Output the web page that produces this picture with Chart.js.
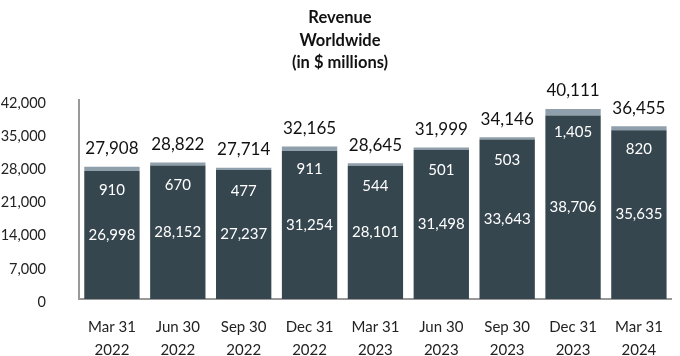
<!DOCTYPE html>
<html>
<head>
<meta charset="utf-8">
<script src="https://cdn.jsdelivr.net/npm/chart.js@4"></script>
<style>
  html, body { margin: 0; padding: 0; background: #fff; }
  #wrap { width: 680px; height: 356px; position: relative; }
</style>
</head>
<body>
<div id="wrap"><canvas id="c" width="680" height="356"></canvas></div>
<script>
const categories = [
  ['Mar 31', '2022'], ['Jun 30', '2022'], ['Sep 30', '2022'], ['Dec 31', '2022'],
  ['Mar 31', '2023'], ['Jun 30', '2023'], ['Sep 30', '2023'], ['Dec 31', '2023'],
  ['Mar 31', '2024']
];
const baseRevenue = [26998, 28152, 27237, 31254, 28101, 31498, 33643, 38706, 35635];
const otherRevenue = [910, 670, 477, 911, 544, 501, 503, 1405, 820];
const totalRevenue = [27908, 28822, 27714, 32165, 28645, 31999, 34146, 40111, 36455];
const titleLines = ['Revenue', 'Worldwide', '(in $ millions)'];
const yMax = 42000;
const yStep = 7000;

const FONT = 'Lato, "Liberation Sans", sans-serif';
const fmt = v => v.toLocaleString('en-US');

const labelPlugin = {
  id: 'labels',
  afterDatasetsDraw(chart) {
    const ctx = chart.ctx;
    const x = chart.scales.x, y = chart.scales.y;
    ctx.save();
    ctx.textAlign = 'center';
    ctx.textBaseline = 'middle';
    categories.forEach((c, i) => {
      const cx = x.getPixelForValue(i);
      const yTop = y.getPixelForValue(totalRevenue[i]);
      const yBaseTop = y.getPixelForValue(baseRevenue[i]);
      const y0 = y.getPixelForValue(0);
      ctx.fillStyle = '#ffffff';
      ctx.font = '15px ' + FONT;
      ctx.fillText(fmt(baseRevenue[i]), cx, (y0 + yBaseTop) / 2);
      ctx.fillText(fmt(otherRevenue[i]), cx, yTop + 23);
      ctx.fillStyle = '#111111';
      ctx.font = '17px ' + FONT;
      ctx.fillText(fmt(totalRevenue[i]), cx, yTop - 18);
    });
    // title
    ctx.fillStyle = '#111111';
    ctx.font = 'bold 16.5px ' + FONT;
    titleLines.forEach((t, k) => ctx.fillText(t, 340, 18 + k * 22.5));
    ctx.restore();
  }
};

new Chart(document.getElementById('c'), {
  type: 'bar',
  data: {
    labels: categories,
    datasets: [
      { label: 'Base', data: baseRevenue, backgroundColor: '#36464f', stack: 's',
        categoryPercentage: 1, barPercentage: 0.84 },
      { label: 'Other', data: otherRevenue, backgroundColor: '#8f9fab', stack: 's',
        categoryPercentage: 1, barPercentage: 0.84 }
    ]
  },
  options: {
    responsive: false,
    animation: false,
    events: [],
    layout: { padding: { top: 100, right: 3, left: 0, bottom: 0 } },
    plugins: { legend: { display: false }, tooltip: { enabled: false }, title: { display: false } },
    scales: {
      x: {
        stacked: true,
        grid: { display: false, drawTicks: false },
        border: { display: true, color: '#999999', width: 2 },
        ticks: { color: '#222', font: { family: FONT, size: 15, lineHeight: 1.5 }, padding: 17, maxRotation: 0, autoSkip: false },
        afterFit(s) { s.height = 57; }
      },
      y: {
        stacked: true,
        min: 0, max: yMax,
        grid: { display: false, drawTicks: false },
        border: { display: true, color: '#999999', width: 2 },
        ticks: { stepSize: yStep, color: '#222', font: { family: FONT, size: 14.5 }, padding: 33, labelOffset: 3,
                 callback: v => fmt(v) },
        afterFit(s) { s.width = 79; }
      }
    }
  },
  plugins: [labelPlugin]
});
</script>
</body>
</html>
